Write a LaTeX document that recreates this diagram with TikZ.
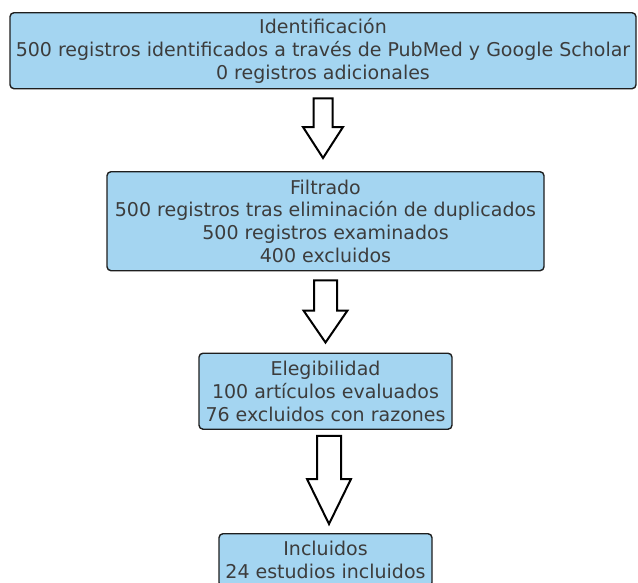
\documentclass[tikz,border=0pt]{standalone}
\usepackage{fontspec}
\setmainfont{DejaVu Sans}
\usetikzlibrary{calc}
\definecolor{cajaazul}{RGB}{164,213,241}
\definecolor{textogris}{RGB}{60,60,60}
\tikzset{
  caja/.style={draw={rgb,255:red,30;green,30;blue,30}, line width=1.4pt, fill=cajaazul,
    rounded corners=4pt, anchor=north, align=center, inner sep=0pt,
    text=textogris, font=\fontsize{19}{22.8}\selectfont},
  bloque/.style={draw=black, line width=2pt, fill=white, line join=miter}
}
% block arrow: from, to, shaft half width, head half width, head length
\newcommand{\flecha}[5]{%
  \draw[bloque] let \p1=(#1), \p2=(#2) in
    (\x1-#3,\y1) -- (\x1+#3,\y1) -- (\x1+#3,\y2+#5) -- (\x1+#4,\y2+#5)
    -- (\x1,\y2) -- (\x1-#4,\y2+#5) -- (\x1-#3,\y2+#5) -- cycle;}
\begin{document}
\begin{tikzpicture}[x=1pt,y=-1pt]
  \useasboundingbox (0,0) rectangle (638,582);
  \node[caja, minimum width=626pt, minimum height=76pt] (ident) at (323,12)
    {Identificación\\500 registros identificados a través de PubMed y Google Scholar\\0 registros adicionales};
  \node[caja, minimum width=437pt, minimum height=99pt] (filt) at (325.5,171)
    {Filtrado\\500 registros tras eliminación de duplicados\\500 registros examinados\\400 excluidos};
  \node[caja, minimum width=253pt, minimum height=76pt] (eleg) at (325.5,352.5)
    {Elegibilidad\\100 artículos evaluados\\76 excluidos con razones};
  \node[caja, minimum width=213pt, minimum height=53pt] (incl) at (325.5,533)
    {Incluidos\\24 estudios incluidos};
  % arrows between stages
  \flecha{$(ident.south)+(0,9)$}{$(filt.north)+(0,-13)$}{9.5pt}{20pt}{31pt}
  \flecha{$(filt.south)+(0,9)$}{$(eleg.north)+(0,-10)$}{11.5pt}{22pt}{32pt}
  \flecha{$(eleg.south)+(3.5,6)$}{$(incl.north)+(3.5,-9)$}{12pt}{22pt}{45pt}
\end{tikzpicture}
\end{document}
